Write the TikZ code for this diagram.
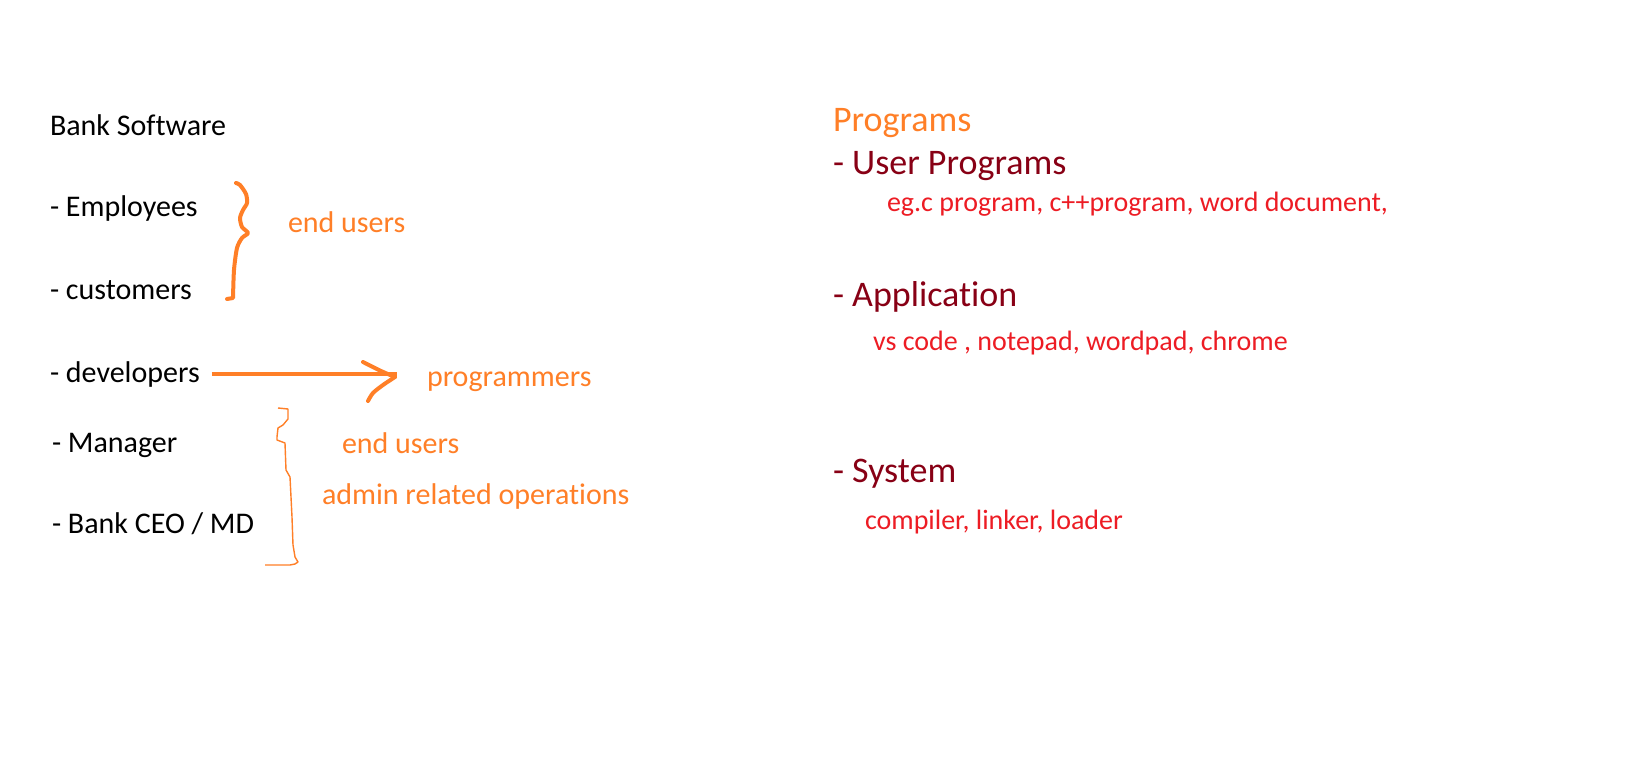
\documentclass[tikz,border=0pt]{standalone}
\usepackage{fontspec}
\setmainfont{Carlito}[Ligatures={NoCommon,NoContextual},Contextuals=NoAlternate]
\definecolor{penorange}{RGB}{255,127,39}
\definecolor{darkred}{RGB}{136,0,21}
\definecolor{brightred}{RGB}{237,28,36}
\begin{document}
\begin{tikzpicture}[x=1pt,y=-1pt,
  txt/.style={anchor=base west,inner sep=0pt,outer sep=0pt},
  item/.style={txt,font=\fontsize{30}{36}\selectfont,text=black},
  note/.style={txt,font=\fontsize{30}{36}\selectfont,text=penorange},
  head/.style={txt,font=\fontsize{36}{43}\selectfont},
  sub/.style={txt,font=\fontsize{28}{34}\selectfont,text=brightred},
  thickpen/.style={draw=penorange,line width=4pt,line join=round,line cap=round},
  thinpen/.style={draw=penorange,line width=1.4pt,line join=round}]
\useasboundingbox[fill=white] (0,0) rectangle (1634,762);

% left column: who uses the bank software
\node[item] (bank) at (50,136) {Bank Software};
\node[item] (emp)  at (50,217) {- Employees};
\node[item] (cust) at (50,299) {- customers};
\node[item] (dev)  at (50,382) {- developers};
\node[item] (mgr)  at (52,452) {- Manager};
\node[item] (ceo)  at (52,533) {- Bank CEO / MD};

% orange annotations
\node[note] (eu1)   at (288,233) {end users};
\node[note] (progr) at (427,386) {programmers};
\node[note] (eu2)   at (342,453) {end users};
\node[note] (admin) at (322,504) {admin related operations};

% right column: kinds of programs
\node[head,text=penorange] (programs) at (833,132) {Programs};
\node[head,text=darkred]   (user)     at (833,175) {- User Programs};
\node[sub]                 (eg)       at (887,212) {eg.c program, c++program, word document,};
\node[head,text=darkred]   (app)      at (833,306) {- Application};
\node[sub]                 (vs)       at (873,350) {vs code , notepad, wordpad, chrome};
\node[head,text=darkred]   (sys)      at (833,482) {- System};
\node[sub]                 (comp)     at (865,529) {compiler, linker, loader};

% hand-drawn brace grouping employees and customers
\draw[thickpen] plot[smooth,tension=0.45] coordinates
  {(236,183) (240,185) (246,194) (247,203) (243,210) (240,218) (242,227) (248,233)
   (242,238) (237,248) (234,270) (233,298)} -- (227,299);

% hand-drawn arrow from developers towards programmers
\coordinate (arrowend) at (397,374);
\draw[thickpen,line cap=butt] ([xshift=12pt]dev.east |- arrowend) -- (arrowend);
\begin{scope}[shift={(arrowend)}]
  \draw[thickpen] plot[smooth,tension=0.5] coordinates
    {(-34,-12) (-16,-3) (-2,3)};
  \draw[thickpen] plot[smooth,tension=0.5] coordinates
    {(-2,3) (-14,11) (-24,19) (-29,27)};
\end{scope}

% thin hand-drawn brace grouping manager and CEO
\draw[thinpen] (278,408) -- (288,409) -- (288,419) -- (283,425) -- (278,428)
  -- (277,437) -- (277,440) -- (285,443) -- (286,470) -- (290,477)
  -- (292,517) -- (293,545) -- (295,557) -- (298,562) -- (295,564)
  -- (290,565) -- (265,565);
\end{tikzpicture}
\end{document}
